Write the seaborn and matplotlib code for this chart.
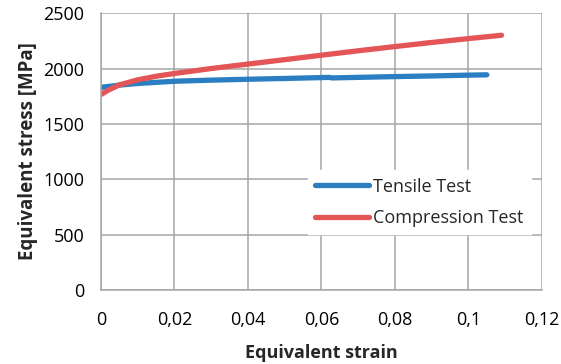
import matplotlib
matplotlib.use("Agg")
import matplotlib.pyplot as plt
import numpy as np
import pandas as pd
import seaborn as sns

# ==========================================================
# Data
# ==========================================================

tensile_strain = [0.0, 0.005, 0.01, 0.02, 0.03, 0.04, 0.05, 0.06, 0.062, 0.063, 0.07, 0.08, 0.09, 0.1, 0.105]
tensile_stress = [1830, 1850, 1865, 1885, 1895, 1903, 1910, 1918, 1920, 1915, 1920, 1927, 1933, 1940, 1943]

compression_strain = [0.0, 0.002, 0.005, 0.01, 0.015, 0.02, 0.03, 0.04, 0.05, 0.06, 0.07, 0.08, 0.09, 0.1, 0.109]
compression_stress = [1765, 1805, 1852, 1898, 1930, 1955, 2000, 2040, 2080, 2120, 2160, 2198, 2235, 2270, 2300]

series_names = ["Tensile Test", "Compression Test"]
colors = ["#2a7ec1", "#e35556"]

df = pd.concat([
    pd.DataFrame({"strain": tensile_strain, "stress": tensile_stress, "test": series_names[0]}),
    pd.DataFrame({"strain": compression_strain, "stress": compression_stress, "test": series_names[1]}),
])

# ==========================================================
# Plot
# ==========================================================

sns.set_style("white")
plt.rcParams["font.family"] = ["Open Sans", "DejaVu Sans"]

fig = plt.figure(figsize=(5.61, 3.64), dpi=100)
ax = fig.add_axes([0.18, 0.203, 0.786, 0.761])

sns.lineplot(
    data=df, x="strain", y="stress", hue="test",
    palette=colors, linewidth=3.8, sort=False,
    solid_capstyle="round", ax=ax
)

ax.set_xlim(0, 0.12)
ax.set_ylim(0, 2500)
ax.set_xticks(np.arange(0, 0.121, 0.02))
ax.set_xticklabels(["0", "0,02", "0,04", "0,06", "0,08", "0,1", "0,12"])
ax.set_yticks(np.arange(0, 2501, 500))

ax.grid(True, color="#a6a6a6", linewidth=1.1)
ax.set_axisbelow(True)
for side in ["top", "right"]:
    ax.spines[side].set_visible(False)
for side in ["left", "bottom"]:
    ax.spines[side].set_color("#a6a6a6")
    ax.spines[side].set_linewidth(1.1)

ax.tick_params(axis="both", length=5, width=1.1, color="#a6a6a6",
               labelsize=13, labelcolor="black", pad=7)
ax.tick_params(axis="x", pad=10)

ax.set_xlabel("Equivalent strain", fontsize=13, fontweight="bold", labelpad=11)
ax.set_ylabel("Equivalent stress [MPa]", fontsize=13.5, fontweight="bold", labelpad=4)

leg = ax.legend(
    loc="upper left", bbox_to_anchor=(0.449, 0.465),
    frameon=True, fancybox=False, fontsize=13,
    handlelength=3.0, handletextpad=0.2, labelspacing=0.75,
    borderpad=0.4
)
leg.get_frame().set_facecolor("white")
leg.get_frame().set_edgecolor("white")
leg.get_frame().set_alpha(1)

plt.savefig("out.png", dpi=100)
